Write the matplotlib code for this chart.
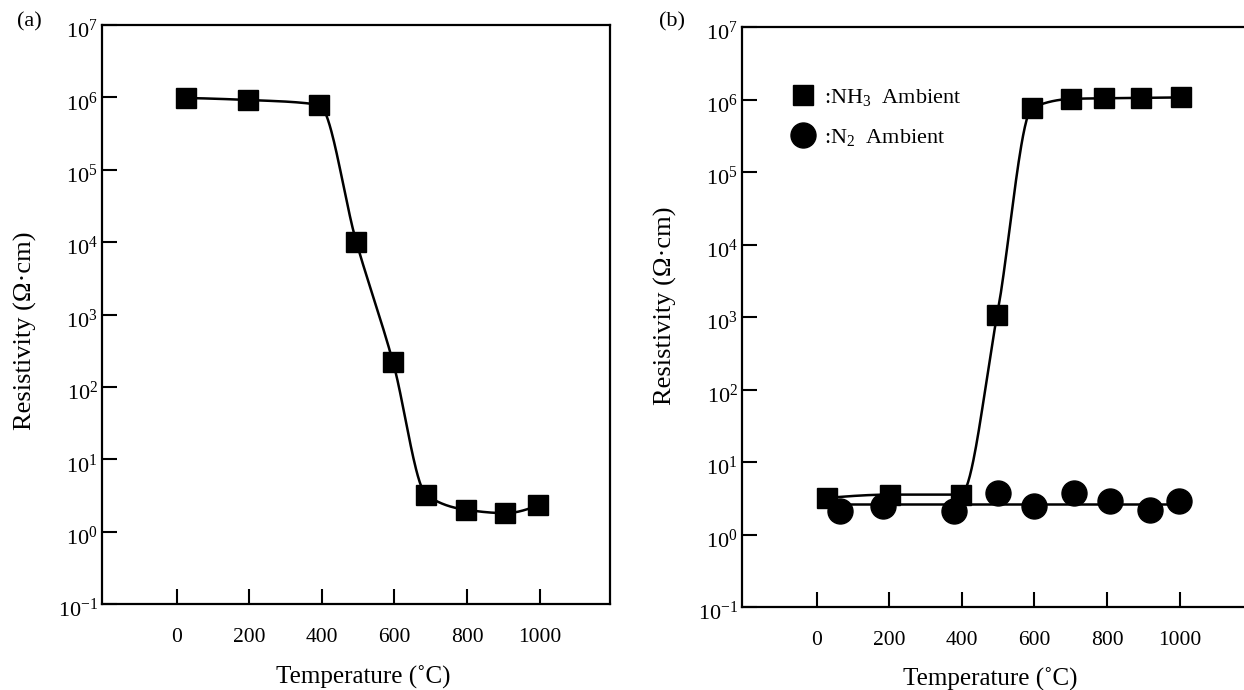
import numpy as np
import matplotlib
matplotlib.use("Agg")
import matplotlib.pyplot as plt
from matplotlib.lines import Line2D
from matplotlib.transforms import ScaledTranslation

# ---------------- data ----------------
temps_a = [25, 196, 392, 495, 596, 688, 798, 906, 995]
res_a = [9.8e5, 9.2e5, 7.9e5, 1.0e4, 2.2e2, 3.2, 2.0, 1.8, 2.3]

temps_nh3 = [28, 201, 397, 497, 594, 702, 793, 893, 1004]
res_nh3 = [3.2, 3.55, 3.55, 1.05e3, 7.7e5, 1.02e6, 1.04e6, 1.05e6, 1.07e6]

temps_n2 = [63, 183, 377, 499, 598, 709, 808, 918, 997]
res_n2 = [2.1, 2.45, 2.1, 3.75, 2.5, 3.75, 2.9, 2.2, 2.9]

xtick_values = [0, 200, 400, 600, 800, 1000]
xtick_labels = ["0", "200", "400", "600", "800", "1000"]
ytick_exponents = [-1, 0, 1, 2, 3, 4, 5, 6, 7]
ytick_labels = [f"$10^{{{e}}}$" for e in ytick_exponents]

xlabel = "Temperature (˚C)"
ylabel = "Resistivity (Ω·cm)"
legend_labels = [":NH$_3$  Ambient", ":N$_2$  Ambient"]
panel_labels = ["(a)", "(b)"]

# ---------------- helpers ----------------
def pchip(x, y, xq):
    x = np.asarray(x, float)
    y = np.asarray(y, float)
    h = np.diff(x)
    d = np.diff(y) / h
    m = np.zeros_like(y)
    for k in range(1, len(x) - 1):
        if d[k - 1] * d[k] > 0:
            w1 = 2 * h[k] + h[k - 1]
            w2 = h[k] + 2 * h[k - 1]
            m[k] = (w1 + w2) / (w1 / d[k - 1] + w2 / d[k])

    def end(h0, h1, d0, d1):
        mm = ((2 * h0 + h1) * d0 - h0 * d1) / (h0 + h1)
        if np.sign(mm) != np.sign(d0):
            mm = 0.0
        elif np.sign(d0) != np.sign(d1) and abs(mm) > abs(3 * d0):
            mm = 3 * d0
        return mm

    m[0] = end(h[0], h[1], d[0], d[1])
    m[-1] = end(h[-1], h[-2], d[-1], d[-2])
    xq = np.asarray(xq, float)
    idx = np.clip(np.searchsorted(x, xq) - 1, 0, len(x) - 2)
    t = (xq - x[idx]) / h[idx]
    h00 = 2 * t**3 - 3 * t**2 + 1
    h10 = t**3 - 2 * t**2 + t
    h01 = -2 * t**3 + 3 * t**2
    h11 = t**3 - t**2
    return (h00 * y[idx] + h10 * h[idx] * m[idx] + h01 * y[idx + 1]
            + h11 * h[idx] * m[idx + 1])


def smooth_curve(xs, ys):
    xq = np.linspace(xs[0], xs[-1], 400)
    return xq, 10 ** pchip(xs, np.log10(ys), xq)


# ---------------- style ----------------
plt.rcParams["font.family"] = ["Liberation Serif", "DejaVu Serif"]
plt.rcParams["mathtext.fontset"] = "custom"
plt.rcParams["mathtext.rm"] = "Liberation Serif"
plt.rcParams["mathtext.it"] = "Liberation Serif:italic"
plt.rcParams["mathtext.bf"] = "Liberation Serif:bold"

fig = plt.figure(figsize=(12.44, 6.90), dpi=100)
W, H = 1244, 690
ax_a = fig.add_axes([102 / W, 1 - 604 / H, 508 / W, 579 / H])
ax_b = fig.add_axes([742 / W, 1 - 607 / H, 508 / W, 580 / H])

for ax in (ax_a, ax_b):
    ax.set_yscale("log")
    ax.set_xlim(-206, 1194)
    ax.set_ylim(10.0 ** ytick_exponents[0], 10.0 ** ytick_exponents[-1])
    ax.set_xticks(xtick_values)
    ax.set_xticklabels(xtick_labels, fontsize=15.5)
    ax.set_yticks([10.0 ** e for e in ytick_exponents])
    ax.set_yticklabels(ytick_labels, fontsize=16)
    ax.yaxis.set_minor_locator(matplotlib.ticker.NullLocator())
    ax.tick_params(axis="both", which="major", direction="in", length=11,
                   width=1.5, colors="black")
    ax.tick_params(axis="x", pad=17)
    ax.tick_params(axis="y", pad=3, right=False)
    ax.tick_params(axis="x", top=False)
    for s in ax.spines.values():
        s.set_linewidth(1.6)
    ax.set_xlabel(xlabel, fontsize=18)
    ax.set_ylabel(ylabel, fontsize=19)
    for lab in ax.get_yticklabels():
        lab.set_transform(lab.get_transform()
                          + ScaledTranslation(0, -4 / 100, fig.dpi_scale_trans))

ax_a.xaxis.set_label_coords(0.514, -0.106)
ax_b.xaxis.set_label_coords(0.488, -0.104)
ax_a.yaxis.set_label_coords(-0.128, 0.472)
ax_b.yaxis.set_label_coords(-0.128, 0.519)

# ---- panel (a)
xc, yc = smooth_curve(temps_a, res_a)
ax_a.plot(xc, yc, color="black", lw=1.8, zorder=2)
ax_a.plot(temps_a, res_a, ls="none", marker="s", ms=15, color="black",
          zorder=3)

# ---- panel (b)
xc, yc = smooth_curve(temps_nh3, res_nh3)
ax_b.plot(xc, yc, color="black", lw=1.8, zorder=2)
n2_level = 10 ** np.mean(np.log10(res_n2))
ax_b.plot([temps_nh3[0], temps_n2[-1]], [n2_level, n2_level], color="black",
          lw=1.8, zorder=2)
ax_b.plot(temps_nh3, res_nh3, ls="none", marker="s", ms=15, color="black",
          zorder=3)
ax_b.plot(temps_n2, res_n2, ls="none", marker="o", ms=18, color="black",
          zorder=4)

handles = [Line2D([], [], ls="none", marker="s", ms=15, color="black"),
           Line2D([], [], ls="none", marker="o", ms=18, color="black")]
ax_b.legend(handles, legend_labels, loc="upper left",
            bbox_to_anchor=(0.098, 0.897), frameon=False, fontsize=16,
            handlelength=1.0, handletextpad=0.45, labelspacing=0.85,
            borderpad=0, borderaxespad=0)

fig.text(29 / W, 1 - 22 / H, panel_labels[0], fontsize=16, ha="center",
         va="center")
fig.text(672 / W, 1 - 22 / H, panel_labels[1], fontsize=16, ha="center",
         va="center")

fig.savefig("out.png", dpi=100, facecolor="white")
